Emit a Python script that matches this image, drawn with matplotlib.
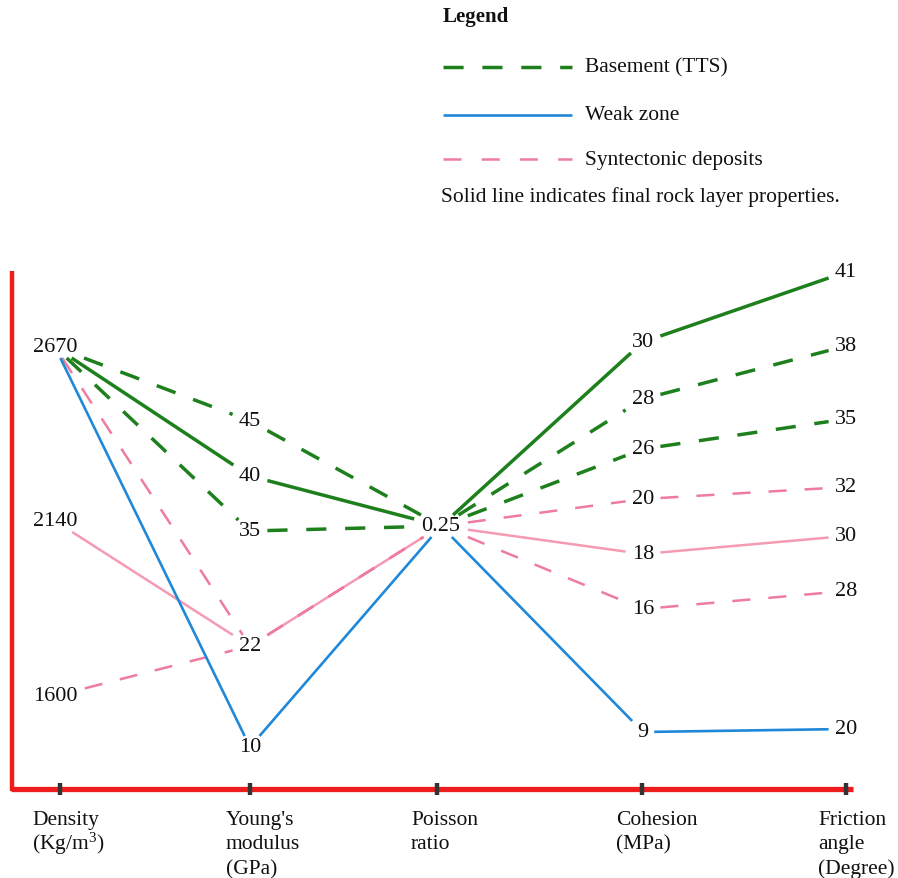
import matplotlib
matplotlib.use("Agg")
import matplotlib.pyplot as plt
import numpy as np

# ---------------- data ----------------
axis_names = ["Density\n(Kg/m$^{3}$)", "Young's\nmodulus\n(GPa)", "Poisson\nratio",
              "Cohesion\n(MPa)", "Friction\nangle\n(Degree)"]
density_vals = [2670, 2140, 1600]
young_vals = [45, 40, 35, 22, 10]
poisson_vals = [0.25]
cohesion_vals = [30, 28, 26, 20, 18, 16, 9]
friction_vals = [41, 38, 35, 32, 30, 28, 20]

basement_a = [2670, 45, 0.25, 28, 38]
basement_b = [2670, 35, 0.25, 26, 35]
basement_final = [2670, 40, 0.25, 30, 41]
weak_zone = [2670, 10, 0.25, 9, 20]
synt_a = [2670, 22, 0.25, 20, 32]
synt_b = [1600, 22, 0.25, 16, 28]
synt_final = [2140, 22, 0.25, 18, 30]

legend_labels = ["Basement (TTS)", "Weak zone", "Syntectonic deposits"]
note = "Solid line indicates final rock layer properties."

# ---------------- layout (schematic level of each value on its axis) ----------------
axis_x = [60, 250, 437, 642, 846]
label_cx = [55, 250, 441, 643, 846]
levels = [
    dict(zip(density_vals, [348, 522, 697])),
    dict(zip(young_vals, [422, 477, 532, 647, 748])),
    dict(zip(poisson_vals, [527])),
    dict(zip(cohesion_vals, [343, 400, 450, 500, 555, 610, 733])),
    dict(zip(friction_vals, [273, 347, 420, 488, 537, 592, 730])),
]
all_vals = [density_vals, young_vals, poisson_vals, cohesion_vals, friction_vals]

plt.rcParams['font.family'] = ['Liberation Serif', 'DejaVu Serif']
plt.rcParams['mathtext.fontset'] = 'custom'
plt.rcParams['mathtext.rm'] = 'Liberation Serif'
plt.rcParams['mathtext.it'] = 'Liberation Serif:italic'
plt.rcParams['mathtext.bf'] = 'Liberation Serif:bold'
plt.rcParams['lines.scale_dashes'] = False

GREEN = '#1d801d'
BLUE = '#2088d8'
PINK_SOLID = '#f49ab3'
PINK_DASH = '#ee7ca0'
RED = '#ee1c1c'
TXT = '#111111'

fig = plt.figure(figsize=(8.98, 8.79), dpi=100)
ax = fig.add_axes([0, 0, 1, 1])
ax.set_xlim(0, 898)
ax.set_ylim(879, 0)
ax.axis('off')

def fmt(v):
    return f"{v:g}"

def half_width(v):
    s = fmt(v)
    return len(s) * 6.2 + 5 - (3 if '.' in s else 0)

HH = 11

def clipped(p, q, hwp, hwq):
    dx, dy = q[0] - p[0], q[1] - p[1]
    def t(hw):
        tx = hw / abs(dx) if dx else np.inf
        ty = HH / abs(dy) if dy else np.inf
        return min(tx, ty)
    ta, tb = t(hwp), t(hwq)
    a = (p[0] + dx * ta, p[1] + dy * ta)
    b = (q[0] - dx * tb, q[1] - dy * tb)
    return a, b

def draw_series(vals, color, lw, ls):
    for i in range(len(vals) - 1):
        p = (label_cx[i], levels[i][vals[i]])
        q = (label_cx[i + 1], levels[i + 1][vals[i + 1]])
        a, b = clipped(p, q, half_width(vals[i]), half_width(vals[i + 1]))
        ax.plot([a[0], b[0]], [a[1], b[1]], color=color, lw=lw, ls=ls,
                solid_capstyle='butt', dash_capstyle='butt')

green_dash = (0, (14.5, 13.5))
pink_dash = (0, (13, 13))

draw_series(synt_final, PINK_SOLID, 1.8, '-')
draw_series(synt_a, PINK_DASH, 1.8, pink_dash)
draw_series(synt_b, PINK_DASH, 1.8, pink_dash)
draw_series(weak_zone, BLUE, 1.9, '-')
draw_series(basement_a, GREEN, 2.5, green_dash)
draw_series(basement_b, GREEN, 2.5, green_dash)
draw_series(basement_final, GREEN, 2.5, '-')

# value labels
for i, vals in enumerate(all_vals):
    for v in vals:
        ax.text(label_cx[i], levels[i][v], fmt(v), ha='center', va='center',
                fontsize=16, color=TXT)

# red axes frame
ax.plot([12, 12], [272, 792], color=RED, lw=3.2, solid_capstyle='butt')
ax.plot([10.5, 853], [790, 790], color=RED, lw=3.8, solid_capstyle='butt')
for x in axis_x:
    ax.plot([x, x], [784, 796], color='#333333', lw=3.2, solid_capstyle='butt')

# axis names (one text per line for exact line spacing)
name_x = [32, 226, 411, 616, 818]
for x, name in zip(name_x, axis_names):
    for k, line in enumerate(name.split("\n")):
        ax.text(x, 825 + 24.5 * k, line, ha='left', va='baseline', fontsize=15.5,
                color=TXT)

# legend
ax.text(443, 17, "Legend", ha='left', va='center', fontsize=15, fontweight='bold',
        color=TXT)
leg_y = [68, 116, 160]
leg_styles = [(GREEN, 2.5, (0, (14.5, 13.5))), (BLUE, 1.9, '-'), (PINK_DASH, 1.8, (0, (13, 14.5)))]
for y, lab, (c, lw, ls) in zip(leg_y, legend_labels, leg_styles):
    ax.plot([443, 572], [y, y], color=c, lw=lw, ls=ls, solid_capstyle='butt',
            dash_capstyle='butt')
    ax.text(585, y, lab, ha='left', va='center', fontsize=15.5, color=TXT)
ax.text(441, 197, note, ha='left', va='center', fontsize=15.5, color=TXT)

fig.savefig('out.png', dpi=100)
